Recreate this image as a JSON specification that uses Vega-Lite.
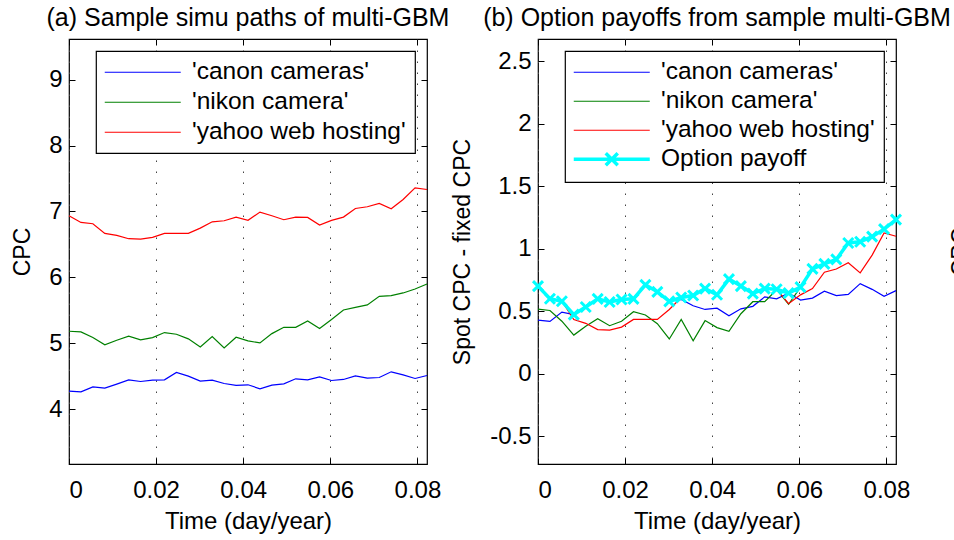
{
  "$schema": "https://vega.github.io/schema/vega-lite/v6.json",
  "background": "white",
  "padding": {"left": 11, "top": 4, "right": 0, "bottom": 0},
  "spacing": 111,
  "bounds": "flush",
  "config": {
    "font": "Liberation Sans",
    "view": {"stroke": "black", "strokeWidth": 1.2},
    "axis": {
      "labelFont": "Liberation Sans", "labelFontSize": 24, "labelColor": "black",
      "titleFont": "Liberation Sans", "titleFontSize": 24, "titleFontWeight": "normal", "titleColor": "black",
      "domain": false, "tickColor": "black", "tickSize": -6, "tickWidth": 1, "labelPadding": 13,
      "grid": false, "titlePadding": 10
    },
    "title": {"font": "Liberation Sans", "fontSize": 25, "fontWeight": "normal", "color": "black", "offset": 8, "frame": "group", "anchor": "middle"},
    "legend": {
      "labelFont": "Liberation Sans", "labelFontSize": 24.5, "labelColor": "black", "labelLimit": 0,
      "strokeColor": "black", "fillColor": "white", "strokeWidth": 1.2, "padding": 9, "cornerRadius": 0,
      "symbolSize": 100, "symbolStrokeWidth": 1.2, "symbolOffset": 25.5, "labelOffset": 37, "rowPadding": 5,
      "orient": "top-right", "offset": 12
    }
  },
  "datasets": {
    "paths": [
      {"t": 0, "kw": "'canon cameras'", "cpc": 4.273, "spread": 0.427},
      {"t": 0.00274, "kw": "'canon cameras'", "cpc": 4.263, "spread": 0.417},
      {"t": 0.00548, "kw": "'canon cameras'", "cpc": 4.338, "spread": 0.492},
      {"t": 0.00822, "kw": "'canon cameras'", "cpc": 4.318, "spread": 0.472},
      {"t": 0.01096, "kw": "'canon cameras'", "cpc": 4.379, "spread": 0.533},
      {"t": 0.0137, "kw": "'canon cameras'", "cpc": 4.444, "spread": 0.598},
      {"t": 0.01644, "kw": "'canon cameras'", "cpc": 4.419, "spread": 0.573},
      {"t": 0.01918, "kw": "'canon cameras'", "cpc": 4.439, "spread": 0.593},
      {"t": 0.02192, "kw": "'canon cameras'", "cpc": 4.444, "spread": 0.598},
      {"t": 0.02466, "kw": "'canon cameras'", "cpc": 4.556, "spread": 0.71},
      {"t": 0.0274, "kw": "'canon cameras'", "cpc": 4.5, "spread": 0.654},
      {"t": 0.03014, "kw": "'canon cameras'", "cpc": 4.424, "spread": 0.578},
      {"t": 0.03288, "kw": "'canon cameras'", "cpc": 4.439, "spread": 0.593},
      {"t": 0.03562, "kw": "'canon cameras'", "cpc": 4.389, "spread": 0.543},
      {"t": 0.03836, "kw": "'canon cameras'", "cpc": 4.359, "spread": 0.513},
      {"t": 0.0411, "kw": "'canon cameras'", "cpc": 4.369, "spread": 0.523},
      {"t": 0.04384, "kw": "'canon cameras'", "cpc": 4.308, "spread": 0.462},
      {"t": 0.04658, "kw": "'canon cameras'", "cpc": 4.364, "spread": 0.518},
      {"t": 0.04932, "kw": "'canon cameras'", "cpc": 4.384, "spread": 0.538},
      {"t": 0.05205, "kw": "'canon cameras'", "cpc": 4.46, "spread": 0.614},
      {"t": 0.05479, "kw": "'canon cameras'", "cpc": 4.444, "spread": 0.598},
      {"t": 0.05753, "kw": "'canon cameras'", "cpc": 4.49, "spread": 0.644},
      {"t": 0.06027, "kw": "'canon cameras'", "cpc": 4.434, "spread": 0.588},
      {"t": 0.06301, "kw": "'canon cameras'", "cpc": 4.45, "spread": 0.604},
      {"t": 0.06575, "kw": "'canon cameras'", "cpc": 4.505, "spread": 0.659},
      {"t": 0.06849, "kw": "'canon cameras'", "cpc": 4.47, "spread": 0.624},
      {"t": 0.07123, "kw": "'canon cameras'", "cpc": 4.48, "spread": 0.634},
      {"t": 0.07397, "kw": "'canon cameras'", "cpc": 4.566, "spread": 0.72},
      {"t": 0.07671, "kw": "'canon cameras'", "cpc": 4.52, "spread": 0.674},
      {"t": 0.07945, "kw": "'canon cameras'", "cpc": 4.465, "spread": 0.619},
      {"t": 0.08219, "kw": "'canon cameras'", "cpc": 4.51, "spread": 0.664},
      {"t": 0, "kw": "'nikon camera'", "cpc": 5.182, "spread": 0.515},
      {"t": 0.00274, "kw": "'nikon camera'", "cpc": 5.172, "spread": 0.505},
      {"t": 0.00548, "kw": "'nikon camera'", "cpc": 5.086, "spread": 0.419},
      {"t": 0.00822, "kw": "'nikon camera'", "cpc": 4.975, "spread": 0.308},
      {"t": 0.01096, "kw": "'nikon camera'", "cpc": 5.045, "spread": 0.378},
      {"t": 0.0137, "kw": "'nikon camera'", "cpc": 5.106, "spread": 0.439},
      {"t": 0.01644, "kw": "'nikon camera'", "cpc": 5.05, "spread": 0.383},
      {"t": 0.01918, "kw": "'nikon camera'", "cpc": 5.086, "spread": 0.419},
      {"t": 0.02192, "kw": "'nikon camera'", "cpc": 5.162, "spread": 0.495},
      {"t": 0.02466, "kw": "'nikon camera'", "cpc": 5.136, "spread": 0.469},
      {"t": 0.0274, "kw": "'nikon camera'", "cpc": 5.066, "spread": 0.399},
      {"t": 0.03014, "kw": "'nikon camera'", "cpc": 4.944, "spread": 0.277},
      {"t": 0.03288, "kw": "'nikon camera'", "cpc": 5.101, "spread": 0.434},
      {"t": 0.03562, "kw": "'nikon camera'", "cpc": 4.929, "spread": 0.262},
      {"t": 0.03836, "kw": "'nikon camera'", "cpc": 5.091, "spread": 0.424},
      {"t": 0.0411, "kw": "'nikon camera'", "cpc": 5.035, "spread": 0.368},
      {"t": 0.04384, "kw": "'nikon camera'", "cpc": 5.005, "spread": 0.338},
      {"t": 0.04658, "kw": "'nikon camera'", "cpc": 5.146, "spread": 0.479},
      {"t": 0.04932, "kw": "'nikon camera'", "cpc": 5.242, "spread": 0.575},
      {"t": 0.05205, "kw": "'nikon camera'", "cpc": 5.242, "spread": 0.575},
      {"t": 0.05479, "kw": "'nikon camera'", "cpc": 5.338, "spread": 0.671},
      {"t": 0.05753, "kw": "'nikon camera'", "cpc": 5.222, "spread": 0.555},
      {"t": 0.06027, "kw": "'nikon camera'", "cpc": 5.359, "spread": 0.692},
      {"t": 0.06301, "kw": "'nikon camera'", "cpc": 5.505, "spread": 0.838},
      {"t": 0.06575, "kw": "'nikon camera'", "cpc": 5.545, "spread": 0.878},
      {"t": 0.06849, "kw": "'nikon camera'", "cpc": 5.581, "spread": 0.914},
      {"t": 0.07123, "kw": "'nikon camera'", "cpc": 5.712, "spread": 1.045},
      {"t": 0.07397, "kw": "'nikon camera'", "cpc": 5.722, "spread": 1.055},
      {"t": 0.07671, "kw": "'nikon camera'", "cpc": 5.763, "spread": 1.096},
      {"t": 0.07945, "kw": "'nikon camera'", "cpc": 5.823, "spread": 1.156},
      {"t": 0.08219, "kw": "'nikon camera'", "cpc": 5.899, "spread": 1.232},
      {"t": 0, "kw": "'yahoo web hosting'", "cpc": 6.934, "spread": 0.7},
      {"t": 0.00274, "kw": "'yahoo web hosting'", "cpc": 6.833, "spread": 0.599},
      {"t": 0.00548, "kw": "'yahoo web hosting'", "cpc": 6.813, "spread": 0.579},
      {"t": 0.00822, "kw": "'yahoo web hosting'", "cpc": 6.667, "spread": 0.433},
      {"t": 0.01096, "kw": "'yahoo web hosting'", "cpc": 6.636, "spread": 0.402},
      {"t": 0.0137, "kw": "'yahoo web hosting'", "cpc": 6.586, "spread": 0.352},
      {"t": 0.01644, "kw": "'yahoo web hosting'", "cpc": 6.581, "spread": 0.347},
      {"t": 0.01918, "kw": "'yahoo web hosting'", "cpc": 6.606, "spread": 0.372},
      {"t": 0.02192, "kw": "'yahoo web hosting'", "cpc": 6.667, "spread": 0.433},
      {"t": 0.02466, "kw": "'yahoo web hosting'", "cpc": 6.667, "spread": 0.433},
      {"t": 0.0274, "kw": "'yahoo web hosting'", "cpc": 6.667, "spread": 0.433},
      {"t": 0.03014, "kw": "'yahoo web hosting'", "cpc": 6.747, "spread": 0.513},
      {"t": 0.03288, "kw": "'yahoo web hosting'", "cpc": 6.843, "spread": 0.609},
      {"t": 0.03562, "kw": "'yahoo web hosting'", "cpc": 6.859, "spread": 0.625},
      {"t": 0.03836, "kw": "'yahoo web hosting'", "cpc": 6.914, "spread": 0.68},
      {"t": 0.0411, "kw": "'yahoo web hosting'", "cpc": 6.865, "spread": 0.631},
      {"t": 0.04384, "kw": "'yahoo web hosting'", "cpc": 6.99, "spread": 0.756},
      {"t": 0.04658, "kw": "'yahoo web hosting'", "cpc": 6.934, "spread": 0.7},
      {"t": 0.04932, "kw": "'yahoo web hosting'", "cpc": 6.874, "spread": 0.64},
      {"t": 0.05205, "kw": "'yahoo web hosting'", "cpc": 6.914, "spread": 0.68},
      {"t": 0.05479, "kw": "'yahoo web hosting'", "cpc": 6.909, "spread": 0.675},
      {"t": 0.05753, "kw": "'yahoo web hosting'", "cpc": 6.793, "spread": 0.559},
      {"t": 0.06027, "kw": "'yahoo web hosting'", "cpc": 6.864, "spread": 0.63},
      {"t": 0.06301, "kw": "'yahoo web hosting'", "cpc": 6.914, "spread": 0.68},
      {"t": 0.06575, "kw": "'yahoo web hosting'", "cpc": 7.045, "spread": 0.811},
      {"t": 0.06849, "kw": "'yahoo web hosting'", "cpc": 7.071, "spread": 0.837},
      {"t": 0.07123, "kw": "'yahoo web hosting'", "cpc": 7.121, "spread": 0.887},
      {"t": 0.07397, "kw": "'yahoo web hosting'", "cpc": 7.04, "spread": 0.806},
      {"t": 0.07671, "kw": "'yahoo web hosting'", "cpc": 7.182, "spread": 0.948},
      {"t": 0.07945, "kw": "'yahoo web hosting'", "cpc": 7.359, "spread": 1.125},
      {"t": 0.08219, "kw": "'yahoo web hosting'", "cpc": 7.333, "spread": 1.099}
    ],
    "payoff": [
      {"t": 0, "kw": "Option payoff", "spread": 0.7},
      {"t": 0.00274, "kw": "Option payoff", "spread": 0.599},
      {"t": 0.00548, "kw": "Option payoff", "spread": 0.579},
      {"t": 0.00822, "kw": "Option payoff", "spread": 0.472},
      {"t": 0.01096, "kw": "Option payoff", "spread": 0.533},
      {"t": 0.0137, "kw": "Option payoff", "spread": 0.598},
      {"t": 0.01644, "kw": "Option payoff", "spread": 0.573},
      {"t": 0.01918, "kw": "Option payoff", "spread": 0.593},
      {"t": 0.02192, "kw": "Option payoff", "spread": 0.598},
      {"t": 0.02466, "kw": "Option payoff", "spread": 0.71},
      {"t": 0.0274, "kw": "Option payoff", "spread": 0.654},
      {"t": 0.03014, "kw": "Option payoff", "spread": 0.578},
      {"t": 0.03288, "kw": "Option payoff", "spread": 0.609},
      {"t": 0.03562, "kw": "Option payoff", "spread": 0.625},
      {"t": 0.03836, "kw": "Option payoff", "spread": 0.68},
      {"t": 0.0411, "kw": "Option payoff", "spread": 0.631},
      {"t": 0.04384, "kw": "Option payoff", "spread": 0.756},
      {"t": 0.04658, "kw": "Option payoff", "spread": 0.7},
      {"t": 0.04932, "kw": "Option payoff", "spread": 0.64},
      {"t": 0.05205, "kw": "Option payoff", "spread": 0.68},
      {"t": 0.05479, "kw": "Option payoff", "spread": 0.675},
      {"t": 0.05753, "kw": "Option payoff", "spread": 0.644},
      {"t": 0.06027, "kw": "Option payoff", "spread": 0.692},
      {"t": 0.06301, "kw": "Option payoff", "spread": 0.838},
      {"t": 0.06575, "kw": "Option payoff", "spread": 0.878},
      {"t": 0.06849, "kw": "Option payoff", "spread": 0.914},
      {"t": 0.07123, "kw": "Option payoff", "spread": 1.045},
      {"t": 0.07397, "kw": "Option payoff", "spread": 1.055},
      {"t": 0.07671, "kw": "Option payoff", "spread": 1.096},
      {"t": 0.07945, "kw": "Option payoff", "spread": 1.156},
      {"t": 0.08219, "kw": "Option payoff", "spread": 1.232}
    ]
  },
  "hconcat": [
    {
      "width": 358,
      "height": 425,
      "title": "(a) Sample simu paths of multi-GBM",
      "data": {"name": "paths"},
      "layer": [
        {
          "mark": {"type": "line", "strokeWidth": 1.2},
          "encoding": {
            "x": {"field": "t", "type": "quantitative",
                  "scale": {"domain": [0, 0.08219], "nice": false, "zero": false},
                  "axis": {"orient": "bottom", "values": [0, 0.02, 0.04, 0.06, 0.08], "format": "~g", "title": "Time (day/year)",
                           "labelPadding": 20, "titlePadding": 7,
                           "grid": true, "gridDash": [1.5, 9.5], "gridColor": "#444444", "gridWidth": 1}},
            "y": {"field": "cpc", "type": "quantitative",
                  "scale": {"domain": [3.167, 9.617], "nice": false, "zero": false},
                  "axis": {"orient": "left", "values": [4, 5, 6, 7, 8, 9], "title": "CPC", "titleFontSize": 23, "titlePadding": 14}},
            "color": {"field": "kw", "type": "nominal",
                      "scale": {"domain": ["'canon cameras'", "'nikon camera'", "'yahoo web hosting'"], "range": ["#0000ff", "#008000", "#ff0000"]},
                      "legend": {"title": null, "symbolType": "M-7.6,0L7.6,0",
                                 "encode": {"symbols": {"update": {
                                   "shape": {"value": "M-7.6,0L7.6,0"},
                                   "strokeWidth": {"value": 1.2}
                                 }}}}}
          }
        },
        {
          "mark": {"type": "point", "opacity": 0},
          "encoding": {
            "x": {"field": "t", "type": "quantitative", "axis": {"orient": "top", "labels": false, "title": null, "values": [0, 0.02, 0.04, 0.06, 0.08]}},
            "y": {"field": "cpc", "type": "quantitative", "axis": {"orient": "right", "labels": false, "title": null, "values": [4, 5, 6, 7, 8, 9]}}
          }
        }
      ],
      "resolve": {"axis": {"x": "independent", "y": "independent"}}
    },
    {
      "width": 358,
      "height": 425,
      "title": "(b) Option payoffs from sample multi-GBM",
      "layer": [
        {
          "data": {"name": "paths"},
          "mark": {"type": "line", "strokeWidth": 1.2},
          "encoding": {
            "x": {"field": "t", "type": "quantitative",
                  "scale": {"domain": [0, 0.08219], "nice": false, "zero": false},
                  "axis": {"orient": "bottom", "values": [0, 0.02, 0.04, 0.06, 0.08], "format": "~g", "title": "Time (day/year)",
                           "labelPadding": 20, "titlePadding": 7,
                           "grid": true, "gridDash": [1.5, 9.5], "gridColor": "#444444", "gridWidth": 1}},
            "y": {"field": "spread", "type": "quantitative",
                  "scale": {"domain": [-0.724, 2.678], "nice": false, "zero": false},
                  "axis": {"orient": "left", "values": [-0.5, 0, 0.5, 1, 1.5, 2, 2.5], "title": "Spot CPC - fixed CPC", "titleFontSize": 23, "titlePadding": 15,
                           "labelExpr": "datum.value < 0 ? '-' + format(-datum.value, '~g') : format(datum.value, '~g')"}},
            "color": {"field": "kw", "type": "nominal",
                      "scale": {"domain": ["'canon cameras'", "'nikon camera'", "'yahoo web hosting'", "Option payoff"], "range": ["#0000ff", "#008000", "#ff0000", "#00ffff"]},
                      "legend": {"title": null, "symbolType": "M-7.6,0L7.6,0", "rowPadding": 4,
                                 "encode": {"symbols": {"update": {
                                   "shape": {"signal": "datum.value === 'Option payoff' ? 'M-7.6,0L7.6,0M-1.2,-1.2L1.2,1.2M-1.2,1.2L1.2,-1.2' : 'M-7.6,0L7.6,0'"},
                                   "strokeWidth": {"signal": "datum.value === 'Option payoff' ? 3.5 : 1.2"}
                                 }}}}}
          }
        },
        {
          "data": {"name": "payoff"},
          "mark": {"type": "line", "strokeWidth": 3.5},
          "encoding": {
            "x": {"field": "t", "type": "quantitative", "axis": null},
            "y": {"field": "spread", "type": "quantitative", "axis": null},
            "color": {"field": "kw", "type": "nominal"}
          }
        },
        {
          "data": {"name": "payoff"},
          "mark": {"type": "point", "shape": "M-1,-1L1,1M1,-1L-1,1", "filled": false, "size": 100, "strokeWidth": 3, "color": "#00ffff", "opacity": 1},
          "encoding": {
            "x": {"field": "t", "type": "quantitative", "axis": {"orient": "top", "labels": false, "title": null, "values": [0, 0.02, 0.04, 0.06, 0.08]}},
            "y": {"field": "spread", "type": "quantitative", "axis": {"orient": "right", "labels": false, "title": null, "values": [-0.5, 0, 0.5, 1, 1.5, 2, 2.5]}}
          }
        }
      ],
      "resolve": {"axis": {"x": "independent", "y": "independent"}}
    },
    {
      "width": 358,
      "height": 425,
      "data": {"name": "paths"},
      "mark": {"type": "line", "strokeWidth": 1.2},
      "encoding": {
        "x": {"field": "t", "type": "quantitative",
              "scale": {"domain": [0, 0.08219], "nice": false, "zero": false},
              "axis": null},
        "y": {"field": "cpc", "type": "quantitative",
              "scale": {"domain": [3.167, 9.617], "nice": false, "zero": false},
              "axis": {"values": [4, 5, 6, 7, 8, 9], "labels": false, "title": "CPC", "titleFontSize": 23, "titlePadding": 34}},
        "color": {"field": "kw", "type": "nominal",
                  "scale": {"domain": ["'canon cameras'", "'nikon camera'", "'yahoo web hosting'"], "range": ["#0000ff", "#008000", "#ff0000"]},
                  "legend": null}
      }
    }
  ],
  "resolve": {"scale": {"color": "independent"}, "legend": {"color": "independent"}}
}
